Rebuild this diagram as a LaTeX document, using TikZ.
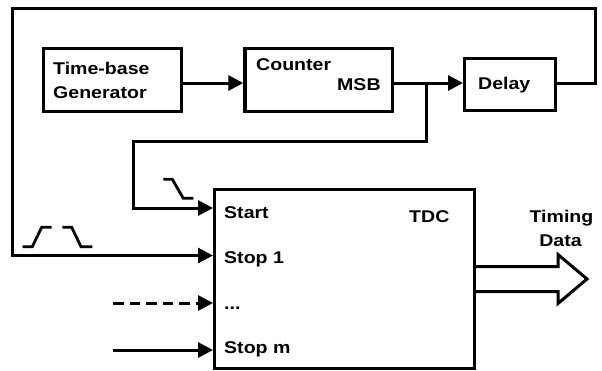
\documentclass[tikz,border=0pt]{standalone}
\usepackage{fontspec}
\setmainfont{Liberation Sans}[FakeStretch=1.15]
\usetikzlibrary{arrows.meta}
\begin{document}
\begin{tikzpicture}[x=1pt,y=-1pt,
  box/.style={draw, line width=3.4pt, inner sep=0pt, fill=white},
  wire/.style={line width=3pt},
  arr/.style={wire, -{Triangle[length=15pt,width=15pt]}},
  txt/.style={inner sep=0pt, anchor=base west, font=\fontsize{17}{20}\selectfont\bfseries},
  txtc/.style={txt, anchor=base},
  wave/.style={line width=2.8pt}]
\useasboundingbox (0,0) rectangle (602,370);

% blocks
\node[box, minimum width=137.9pt, minimum height=63.2pt] (tb) at (112.35,80) {};
\node[box, minimum width=147.6pt, minimum height=62.6pt] (counter) at (318.8,80) {};
\node[box, minimum width=90.6pt, minimum height=51.6pt] (delay) at (510,84.5) {};
\node[box, minimum width=259.6pt, minimum height=178.6pt] (tdc) at (344.5,279) {};

% block texts
\node[txt] (tbA) at (53,74.6) {Time-base};
\node[txt] (tbB) at (53,98.3) {Generator};
\node[txt] (cnt) at (256,70.7) {Counter};
\node[txt] (msb) at (337,90) {MSB};
\node[txt] (dly) at (478,89.3) {Delay};
\node[txt] (tdcL) at (409,222.7) {TDC};
\node[txt] (inStart) at (224,218) {Start};
\node[txt] (inStop1) at (224,263) {Stop 1};
\node[txt] (inDots) at (224,309) {...};
\node[txt] (inStopm) at (224,353) {Stop m};
\node[txtc] (outA) at (561.5,222.7) {Timing};
\node[txtc] (outB) at (560.5,246) {Data};

% time base -> counter -> delay
\coordinate (split) at (426,83);
\draw[arr] ([yshift=-3pt]tb.east) -- ([yshift=-3pt]counter.west);
\draw[arr] (counter.east |- split) -- (delay.west |- split);

% counter output -> Start
\coordinate (bendA) at (133,141);
\coordinate (startSrc) at (133,208);
\draw[arr] (split) |- (bendA) -- (startSrc) -- (tdc.west |- startSrc);

% delayed signal -> Stop 1
\coordinate (loopR) at (595,8.5);
\coordinate (loopL) at (12,8.5);
\coordinate (stopSrc) at (12,255.5);
\draw[arr] (delay.east |- split) -| (loopR) -- (loopL) -- (stopSrc) -- (tdc.west |- stopSrc);

% further stop inputs
\coordinate (dotsSrc) at (113,303);
\draw[arr, dash pattern=on 10.5pt off 6pt] (dotsSrc) -- (tdc.west |- dotsSrc);
\coordinate (mSrc) at (113,350);
\draw[arr] (mSrc) -- (tdc.west |- mSrc);

% output bus arrow
\draw[line width=3pt, fill=white, line join=miter]
  (tdc.east) ++(0,-12.5) -- ++(82,0) -- ++(0,-12)
  -- ++(29,24.5) -- ++(-29,24.5) -- ++(0,-12) -- ++(-82,0);

% waveform sketches
\draw[wave] (163.3,179.3) -- (172.3,179.3) -- (183.3,198.3) -- (193.3,198.3);
\draw[wave] (22.7,246.7) -- (32.3,246.7) -- (41.7,227.3) -- (51.7,227.3);
\draw[wave] (62.3,227.3) -- (71.7,227.3) -- (81,246.7) -- (92.3,246.7);
\end{tikzpicture}
\end{document}
